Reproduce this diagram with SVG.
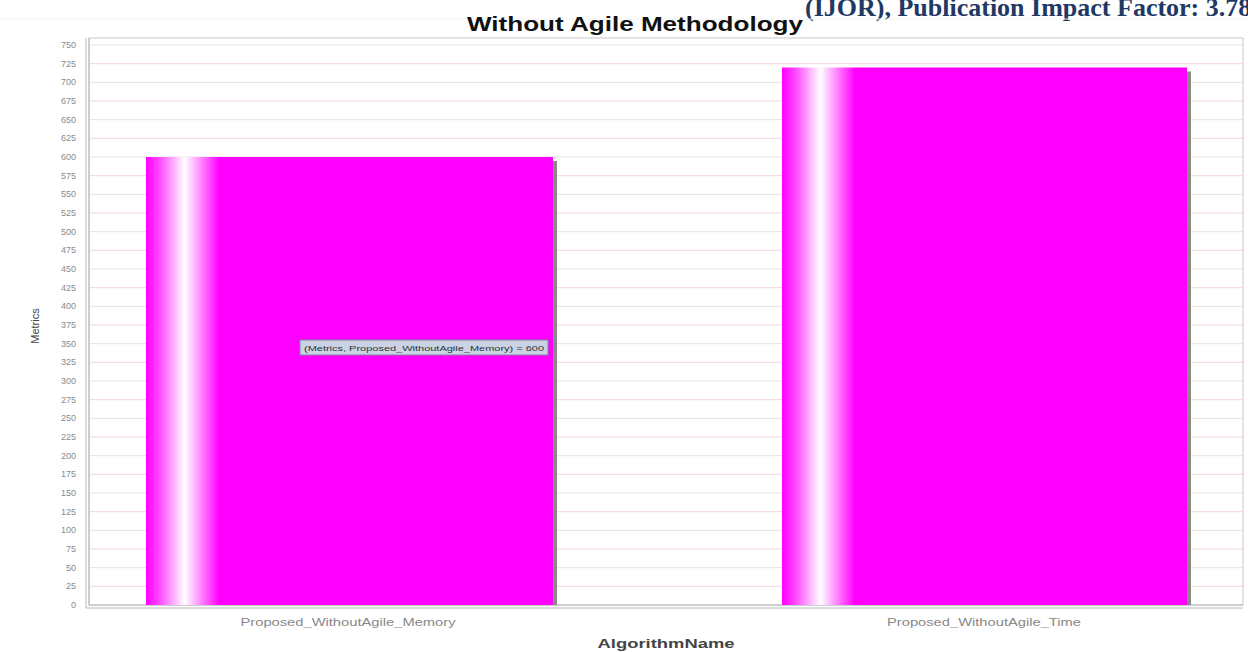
<svg xmlns="http://www.w3.org/2000/svg" width="1248" height="652" viewBox="0 0 1248 652">
<defs>
<linearGradient id="barg" x1="0" y1="0" x2="1" y2="0">
<stop offset="0" stop-color="#ff00ff"/>
<stop offset="0.03" stop-color="#ff40ff"/>
<stop offset="0.095" stop-color="#ffffff"/>
<stop offset="0.18" stop-color="#ff00ff"/>
<stop offset="1" stop-color="#ff00ff"/>
</linearGradient>
<style>
.tick{font-family:"Liberation Sans",Arial,sans-serif;font-size:9px;fill:#8a8a8a;text-anchor:end}
.grid{stroke:#ecdfe2;stroke-width:1}
.gridr{stroke:#f3d4da;stroke-width:1}
.cat{font-family:"Liberation Sans",Arial,sans-serif;font-size:10px;fill:#888;text-anchor:middle}
.axis{stroke:#b8b8b8;stroke-width:1;fill:none}
</style>
</defs>
<rect width="1248" height="652" fill="#ffffff"/>
<text x="805" y="16" font-family="Liberation Serif,serif" font-weight="bold" font-size="26" fill="#1f3864">(IJOR), Publication Impact Factor: 3.78</text>
<line x1="0" y1="19" x2="1248" y2="19" stroke="#f2f2f2"/>
<text x="635" y="31" font-family="Liberation Sans,Arial,sans-serif" font-weight="bold" font-size="20" fill="#111" text-anchor="middle" textLength="336" lengthAdjust="spacingAndGlyphs">Without Agile Methodology</text>
<g id="plot">
<rect x="89" y="38" width="1154" height="567" fill="#ffffff" stroke="#c8c8c8"/>
<g id="gridlines">
<line class="grid" x1="89" x2="1243" y1="45" y2="45"/>
<line class="gridr" x1="89" x2="1243" y1="63.7" y2="63.7"/>
<line class="grid" x1="89" x2="1243" y1="82.3" y2="82.3"/>
<line class="gridr" x1="89" x2="1243" y1="101" y2="101"/>
<line class="grid" x1="89" x2="1243" y1="119.7" y2="119.7"/>
<line class="gridr" x1="89" x2="1243" y1="138.3" y2="138.3"/>
<line class="grid" x1="89" x2="1243" y1="157" y2="157"/>
<line class="gridr" x1="89" x2="1243" y1="175.7" y2="175.7"/>
<line class="grid" x1="89" x2="1243" y1="194.3" y2="194.3"/>
<line class="gridr" x1="89" x2="1243" y1="213" y2="213"/>
<line class="grid" x1="89" x2="1243" y1="231.7" y2="231.7"/>
<line class="gridr" x1="89" x2="1243" y1="250.3" y2="250.3"/>
<line class="grid" x1="89" x2="1243" y1="269" y2="269"/>
<line class="gridr" x1="89" x2="1243" y1="287.7" y2="287.7"/>
<line class="grid" x1="89" x2="1243" y1="306.3" y2="306.3"/>
<line class="gridr" x1="89" x2="1243" y1="325" y2="325"/>
<line class="grid" x1="89" x2="1243" y1="343.7" y2="343.7"/>
<line class="gridr" x1="89" x2="1243" y1="362.3" y2="362.3"/>
<line class="grid" x1="89" x2="1243" y1="381" y2="381"/>
<line class="gridr" x1="89" x2="1243" y1="399.7" y2="399.7"/>
<line class="grid" x1="89" x2="1243" y1="418.3" y2="418.3"/>
<line class="gridr" x1="89" x2="1243" y1="437" y2="437"/>
<line class="grid" x1="89" x2="1243" y1="455.7" y2="455.7"/>
<line class="gridr" x1="89" x2="1243" y1="474.3" y2="474.3"/>
<line class="grid" x1="89" x2="1243" y1="493" y2="493"/>
<line class="gridr" x1="89" x2="1243" y1="511.7" y2="511.7"/>
<line class="grid" x1="89" x2="1243" y1="530.3" y2="530.3"/>
<line class="gridr" x1="89" x2="1243" y1="549" y2="549"/>
<line class="grid" x1="89" x2="1243" y1="567.7" y2="567.7"/>
<line class="gridr" x1="89" x2="1243" y1="586.3" y2="586.3"/>
</g>
<line class="axis" x1="86" y1="38" x2="86" y2="608"/>
<line class="axis" x1="89" y1="38" x2="89" y2="605"/>
<line class="axis" x1="89" y1="605" x2="1243" y2="605"/>
<line class="axis" x1="86" y1="608" x2="1243" y2="608"/>
</g>
<g id="yticks">
<text class="tick" x="76" y="48">750</text>
<text class="tick" x="76" y="66.7">725</text>
<text class="tick" x="76" y="85.3">700</text>
<text class="tick" x="76" y="104">675</text>
<text class="tick" x="76" y="122.7">650</text>
<text class="tick" x="76" y="141.3">625</text>
<text class="tick" x="76" y="160">600</text>
<text class="tick" x="76" y="178.7">575</text>
<text class="tick" x="76" y="197.3">550</text>
<text class="tick" x="76" y="216">525</text>
<text class="tick" x="76" y="234.7">500</text>
<text class="tick" x="76" y="253.3">475</text>
<text class="tick" x="76" y="272">450</text>
<text class="tick" x="76" y="290.7">425</text>
<text class="tick" x="76" y="309.3">400</text>
<text class="tick" x="76" y="328">375</text>
<text class="tick" x="76" y="346.7">350</text>
<text class="tick" x="76" y="365.3">325</text>
<text class="tick" x="76" y="384">300</text>
<text class="tick" x="76" y="402.7">275</text>
<text class="tick" x="76" y="421.3">250</text>
<text class="tick" x="76" y="440">225</text>
<text class="tick" x="76" y="458.7">200</text>
<text class="tick" x="76" y="477.3">175</text>
<text class="tick" x="76" y="496">150</text>
<text class="tick" x="76" y="514.7">125</text>
<text class="tick" x="76" y="533.3">100</text>
<text class="tick" x="76" y="552">75</text>
<text class="tick" x="76" y="570.7">50</text>
<text class="tick" x="76" y="589.3">25</text>
<text class="tick" x="76" y="608">0</text>
</g>
<g id="bar-memory">
<rect x="150" y="161" width="407" height="444" fill="#8a8a8a"/>
<rect x="146" y="157" width="407" height="448" fill="url(#barg)"/>
</g>
<g id="bar-time">
<rect x="786" y="71.5" width="405" height="533.5" fill="#8a8a8a"/>
<rect x="782" y="67.5" width="405" height="537.5" fill="url(#barg)"/>
</g>
<g id="tooltip">
<rect x="300" y="340" width="248" height="15" fill="#c9d3e3" stroke="#7a8799" stroke-width="1"/>
<text x="424" y="351" font-family="Liberation Sans,Arial,sans-serif" font-size="8" fill="#2a3340" text-anchor="middle" textLength="240" lengthAdjust="spacingAndGlyphs">(Metrics, Proposed_WithoutAgile_Memory) = 600</text>
</g>
<text class="cat" x="348" y="626" textLength="215" lengthAdjust="spacingAndGlyphs">Proposed_WithoutAgile_Memory</text>
<text class="cat" x="984" y="626" textLength="194" lengthAdjust="spacingAndGlyphs">Proposed_WithoutAgile_Time</text>
<text x="666" y="648" font-family="Liberation Sans,Arial,sans-serif" font-weight="bold" font-size="12" fill="#444" text-anchor="middle" textLength="137" lengthAdjust="spacingAndGlyphs">AlgorithmName</text>
<text x="0" y="0" transform="translate(39,326) rotate(-90)" font-family="Liberation Sans,Arial,sans-serif" font-size="11" fill="#444" text-anchor="middle">Metrics</text>
</svg>
